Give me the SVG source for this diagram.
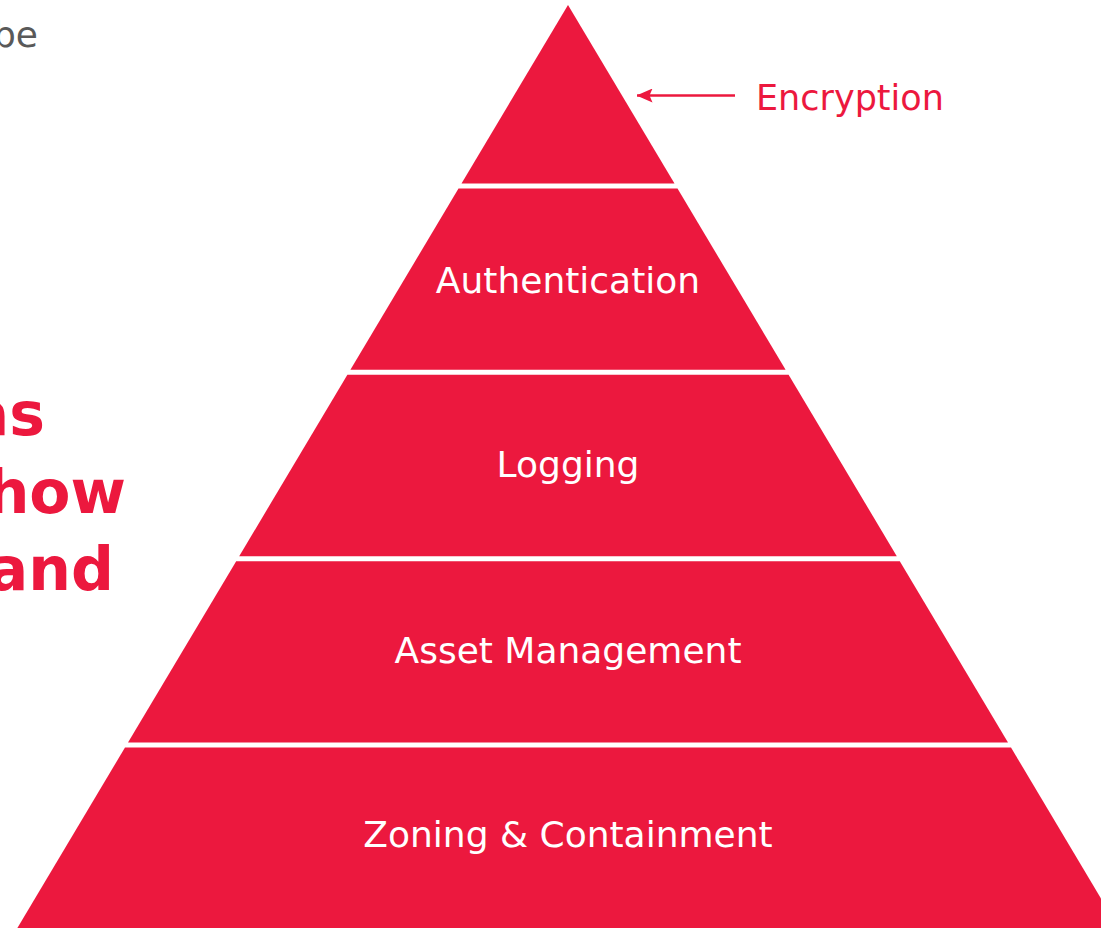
<svg xmlns="http://www.w3.org/2000/svg" width="1101" height="928" viewBox="0 0 1101 928">
  <defs>
    <style>
      .layer { fill: #EC183E; }
      .lbl { font-family: "DejaVu Sans", "Liberation Sans", sans-serif; font-size: 36px; fill: #FFFFFF; text-anchor: middle; }
      .side { font-family: "DejaVu Sans", "Liberation Sans", sans-serif; font-size: 35px; fill: #EC183E; }
      .big { font-family: "DejaVu Sans", "Liberation Sans", sans-serif; font-weight: bold; font-size: 60px; fill: #EC183E; text-anchor: end; }
      .grey { font-family: "DejaVu Sans", "Liberation Sans", sans-serif; font-size: 36px; fill: #595959; text-anchor: end; }
      .conn { stroke: #EC183E; stroke-width: 2.5; fill: none; }
    </style>
    <marker id="arrow" viewBox="0 0 16 14" refX="15.5" refY="7" markerUnits="userSpaceOnUse" markerWidth="16" markerHeight="14" orient="auto">
      <path d="M0,0 L16,7 L0,14 L3,7 Z" fill="#EC183E"/>
    </marker>
  </defs>
  <rect width="1101" height="928" fill="#FFFFFF"/>

  <g id="bg-text">
    <text class="grey" x="38" y="47">be</text>
    <text class="big" x="45" y="435">as</text>
    <text class="big" x="126" y="513">how</text>
    <text class="big" x="114" y="590">and</text>
  </g>

  <g id="layer-encryption">
    <polygon class="layer" points="568,5 674.5,183.5 461.5,183.5"/>
  </g>
  <g id="layer-authentication">
    <polygon class="layer" points="458.5,188.5 677.5,188.5 785.6,369.8 350.4,369.8"/>
    <text class="lbl" x="568" y="293">Authentication</text>
  </g>
  <g id="layer-logging">
    <polygon class="layer" points="347.4,374.8 788.6,374.8 896.8,556.2 239.2,556.2"/>
    <text class="lbl" x="568" y="477">Logging</text>
  </g>
  <g id="layer-asset">
    <polygon class="layer" points="236.2,561.2 899.8,561.2 1008,742.5 128,742.5"/>
    <text class="lbl" x="568" y="663">Asset Management</text>
  </g>
  <g id="layer-zoning">
    <polygon class="layer" points="125,747.5 1011,747.5 1122.8,935 13.2,935"/>
    <text class="lbl" x="568" y="847">Zoning &amp; Containment</text>
  </g>

  <g id="connectors">
    <line class="conn" x1="735" y1="95.5" x2="637" y2="95.5" marker-end="url(#arrow)"/>
  </g>
  <g id="label-encryption">
    <text class="side" x="756" y="110">Encryption</text>
  </g>
</svg>
